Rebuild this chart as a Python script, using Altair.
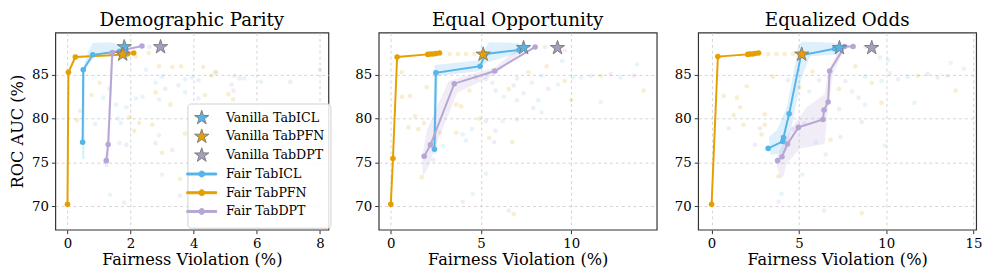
import altair as alt
import pandas as pd

# ---------------- colours ----------------
ICL_C = "#56B4E9"
PFN_C = "#E69F00"
DPT_C = "#B7A6D5"
DPT_STAR_C = "#A79DBE"
EDGE_C = "#7f7f7f"

SERIES = ["Vanilla TabICL", "Vanilla TabPFN", "Vanilla TabDPT",
          "Fair TabICL", "Fair TabPFN", "Fair TabDPT"]

Y_DOMAIN = [67.3, 89.85]
Y_TICKS = [70, 75, 80, 85]

# ---------------- Demographic Parity ----------------
DP_ICL_X = [0.48, 0.50, 0.80, 1.65]
DP_ICL_Y = [77.3, 85.6, 87.3, 87.7]
DP_PFN_X = [0.0, 0.03, 0.25, 1.70, 1.90, 2.10]
DP_PFN_Y = [70.2, 85.3, 87.05, 87.3, 87.4, 87.5]
DP_DPT_X = [1.23, 1.29, 1.42, 2.36]
DP_DPT_Y = [75.2, 77.05, 87.55, 88.3]
DP_VAN_X = [1.80, 1.75, 2.95]
DP_VAN_Y = [88.2, 87.35, 88.2]

DP_BG_ICL = [(2.48, 85.6), (3.0, 84.8), (3.73, 84.5), (3.94, 84.7), (2.79, 84.1), (2.38, 82.5),
             (2.17, 82.3), (2.9, 82.2), (1.86, 81.3), (1.6, 80.0), (1.7, 79.5), (1.65, 77.2),
             (3.0, 73.6), (1.35, 71.3), (1.13, 82.4), (1.33, 83.4), (1.54, 81.6), (5.29, 84.9),
             (5.6, 84.6), (6.13, 84.2), (8.0, 85.6), (4.67, 85.3), (3.73, 83.0), (2.9, 78.1),
             (0.87, 79.4)]
DP_BG_PFN = [(2.17, 87.1), (2.58, 87.5), (3.32, 85.9), (3.6, 86.0), (4.3, 85.9), (4.56, 84.9),
             (4.72, 85.3), (2.79, 83.0), (3.26, 81.6), (1.96, 80.2), (2.27, 79.5), (2.69, 79.3),
             (2.12, 78.6), (3.0, 76.1), (3.57, 73.1), (0.76, 82.7), (0.4, 80.9), (0.3, 79.8),
             (1.02, 84.1), (5.1, 82.8), (4.36, 82.7), (3.73, 78.3), (2.9, 86.0), (5.25, 82.2)]
DP_BG_DPT = [(3.1, 83.4), (3.52, 83.8), (1.86, 77.0), (2.79, 77.2), (3.32, 76.4), (1.8, 70.4),
             (3.57, 71.2), (5.2, 83.9), (5.26, 83.2), (5.45, 84.6), (7.06, 84.2), (4.15, 84.4),
             (4.15, 82.3), (4.25, 77.9), (4.56, 78.3), (2.6, 88.2), (2.9, 88.0)]

DP_BAND_ICL = [(0.46, 75.4), (0.46, 85.4), (0.66, 87.7), (0.81, 88.64), (1.39, 88.75), (1.70, 88.38),
               (1.49, 87.62), (0.87, 87.14), (0.56, 85.6), (0.54, 75.4)]
DP_BAND_DPT = [(1.18, 74.5), (1.25, 77.1), (1.38, 87.5), (1.46, 87.5), (1.32, 77.0), (1.30, 74.5)]

# ---------------- Equal Opportunity ----------------
EO_ICL_X = [2.42, 2.50, 4.95, 5.25, 7.10]
EO_ICL_Y = [76.5, 85.25, 86.0, 87.4, 87.85]
EO_PFN_X = [0.0, 0.12, 0.35, 2.05, 2.20, 2.35, 2.50, 2.70]
EO_PFN_Y = [70.2, 75.45, 87.05, 87.35, 87.4, 87.4, 87.45, 87.5]
EO_DPT_X = [1.85, 2.20, 3.52, 5.76, 8.00]
EO_DPT_Y = [75.7, 77.0, 84.0, 85.45, 88.2]
EO_VAN_X = [7.36, 5.12, 9.24]
EO_VAN_Y = [88.1, 87.35, 88.1]

EO_BG_ICL = [(6.27, 82.5), (7.81, 84.1), (8.36, 84.9), (8.18, 82.1), (9.27, 83.9), (10.09, 84.7),
             (12.73, 84.7), (13.64, 86.2), (11.64, 81.9), (9.5, 86.6), (8.36, 80.7), (6.2, 79.7),
             (4.5, 78.8), (4.17, 77.5), (3.99, 78.2), (5.27, 73.7), (4.54, 71.4), (2.9, 76.9),
             (10.55, 84.7)]
EO_BG_PFN = [(3.26, 87.4), (3.72, 87.4), (4.17, 87.4), (4.63, 87.4), (1.07, 82.6), (0.62, 82.5),
             (0.98, 79.0), (1.35, 80.3), (1.99, 83.6), (1.84, 79.5), (1.53, 78.8), (2.72, 78.4),
             (1.71, 73.3), (3.63, 81.6), (3.9, 81.4), (3.63, 78.4), (4.36, 83.2), (4.72, 84.7),
             (6.54, 83.4), (9.64, 84.3), (11.64, 84.9), (14.01, 83.2), (10.0, 82.1), (8.64, 86.0),
             (7.63, 85.3), (4.9, 80.0), (5.45, 77.8), (6.73, 77.3), (6.81, 69.1), (0.6, 85.3)]
EO_BG_DPT = [(5.27, 84.5), (5.63, 84.1), (5.81, 83.2), (6.81, 83.8), (6.99, 82.1), (7.36, 82.9),
             (8.73, 83.4), (11.09, 84.9), (12.19, 85.1), (13.46, 84.9), (9.64, 87.8), (8.55, 88.2),
             (7.0, 84.6), (7.9, 81.2), (7.0, 79.9), (5.8, 78.6), (5.27, 79.7), (5.73, 77.3),
             (3.99, 70.5), (6.54, 69.5), (2.35, 75.3)]

EO_BAND_ICL = [(2.36, 76.0), (2.38, 85.0), (2.44, 86.15), (4.81, 86.65), (5.45, 88.75), (7.09, 88.64),
               (7.27, 87.62), (5.27, 86.38), (4.9, 85.45), (2.6, 84.88), (2.52, 76.0)]
EO_BAND_DPT = [(1.78, 73.4), (1.75, 75.8), (2.0, 78.7), (3.2, 84.3), (5.76, 85.85), (7.3, 88.4),
               (7.4, 87.9), (5.8, 85.05), (3.7, 83.0), (2.6, 77.5), (2.1, 74.5)]

# ---------------- Equalized Odds ----------------
EOD_ICL_X = [3.24, 4.08, 4.12, 4.44, 5.12, 7.04]
EOD_ICL_Y = [76.6, 77.4, 77.85, 80.55, 87.25, 88.0]
EOD_PFN_X = [0.0, 0.36, 2.07, 2.20, 2.35, 2.49, 2.69]
EOD_PFN_Y = [70.2, 87.1, 87.35, 87.4, 87.4, 87.45, 87.5]
EOD_DPT_X = [3.78, 4.03, 4.35, 4.97, 6.38, 6.44, 6.67, 6.76, 7.62, 8.10]
EOD_DPT_Y = [75.2, 75.65, 77.1, 79.0, 79.9, 81.0, 81.9, 85.45, 88.25, 88.25]
EOD_VAN_X = [7.32, 5.16, 9.17]
EOD_VAN_Y = [88.1, 87.35, 88.1]

EOD_BG_ICL = [(5.59, 83.1), (8.04, 83.1), (8.79, 84.8), (9.73, 84.3), (10.2, 85.2), (13.69, 86.4),
              (14.44, 85.7), (11.62, 81.8), (8.79, 81.6), (5.97, 77.3), (4.0, 71.4), (5.2, 73.6),
              (9.92, 76.9), (10.11, 86.7), (9.64, 87.0), (11.24, 84.8)]
EOD_BG_PFN = [(3.24, 87.4), (3.71, 87.4), (4.18, 87.4), (4.67, 87.4), (3.52, 84.8), (5.03, 83.6),
              (5.78, 85.4), (7.29, 83.4), (8.23, 86.0), (9.17, 84.1), (11.81, 84.9), (13.97, 83.2),
              (9.73, 81.8), (6.81, 77.6), (3.05, 80.5), (3.05, 79.3), (2.86, 78.2), (1.82, 79.3),
              (1.64, 81.3), (2.01, 83.7), (1.26, 80.4), (1.45, 82.4), (0.69, 82.6), (3.83, 73.4),
              (8.6, 69.2)]
EOD_BG_DPT = [(4.37, 84.4), (6.16, 84.4), (6.72, 84.8), (7.66, 84.3), (8.42, 82.4), (10.68, 84.5),
              (12.37, 85.1), (12.94, 84.7), (13.5, 84.9), (8.6, 79.6), (7.29, 81.1), (6.53, 75.9),
              (7.38, 77.9), (5.31, 79.4), (4.65, 78.8), (2.77, 78.9), (2.49, 77.0), (0.98, 78.9),
              (3.83, 70.5), (6.44, 69.5), (8.04, 88.2), (8.79, 88.2)]

EOD_BAND_ICL = [(3.28, 77.9), (3.75, 78.7), (4.31, 81.3), (4.78, 86.2), (4.97, 88.5), (5.25, 88.83),
                (7.14, 88.64), (7.23, 87.33), (5.63, 87.14), (5.16, 84.7), (4.69, 80.2), (4.41, 77.55),
                (4.12, 76.05), (3.37, 75.86)]
EOD_BAND_DPT = [(3.93, 73.2), (3.65, 75.3), (4.5, 78.7), (5.44, 81.3), (6.47, 82.8), (6.67, 85.4),
                (7.32, 88.05), (7.6, 87.9), (6.95, 85.1), (6.67, 81.3), (6.47, 77.1), (5.06, 76.6),
                (4.31, 74.9), (4.12, 73.4)]

# ---------------- helpers ----------------
FONT = "DejaVu Serif"
# star and "line with dot" legend glyphs; both span the same vertical bounds (-1..1)
STAR_PATH = ("M0,1M0,-1L0.2245,-0.309L0.9511,-0.309L0.3633,0.118L0.5878,0.809L0,0.382"
             "L-0.5878,0.809L-0.3633,0.118L-0.9511,-0.309L-0.2245,-0.309Z")
LINE_PATH = ("M0,-1M0,1M-2,-0.13L2,-0.13L2,0.13L-2,0.13Z"
             "M0.4,0A0.4,0.4,0,1,1,-0.4,0A0.4,0.4,0,1,1,0.4,0Z")

fill_scale = alt.Scale(domain=SERIES, range=[ICL_C, PFN_C, DPT_STAR_C, ICL_C, PFN_C, DPT_C])
stroke_scale = alt.Scale(domain=SERIES, range=[EDGE_C, EDGE_C, EDGE_C, ICL_C, PFN_C, DPT_C])
shape_scale = alt.Scale(domain=SERIES, range=[STAR_PATH, STAR_PATH, STAR_PATH,
                                              LINE_PATH, LINE_PATH, LINE_PATH])

LEGEND = alt.Legend(title=None, orient="none", legendX=134, legendY=72,
                    labelFont=FONT, labelFontSize=12.8, labelColor="black",
                    symbolSize=230, symbolStrokeWidth=1, labelOffset=16,
                    padding=6, rowPadding=-2.8, strokeColor="#d0d0d0",
                    fillColor="rgba(255,255,255,0.85)", cornerRadius=3)

AXIS_COMMON = dict(grid=True, gridDash=[3, 3], gridColor="#c8c8c8", gridWidth=0.8,
                   tickSize=4, tickColor="#333333", tickWidth=1, domain=False,
                   labelFont=FONT, labelFontSize=13.5, labelColor="black", labelPadding=3,
                   titleFont=FONT, titleFontSize=16.4, titleFontWeight="normal", titleColor="black")


def pts(pairs, name):
    return pd.DataFrame({"x": [p[0] for p in pairs], "y": [p[1] for p in pairs],
                         "i": list(range(len(pairs))), "name": name})


def panel(title, xdom, xticks, fair, van, bg, bands, first, ext, width):
    X = alt.X("x:Q", scale=alt.Scale(domain=xdom, nice=False, zero=False),
              axis=alt.Axis(values=xticks, format="d", title="Fairness Violation (%)",
                            titlePadding=2, **AXIS_COMMON))
    if first:
        yax = alt.Axis(values=Y_TICKS, title="ROC AUC (%)", minExtent=ext, maxExtent=ext,
                       titlePadding=6.5, **AXIS_COMMON)
    else:
        yax = alt.Axis(values=Y_TICKS, title=None, minExtent=ext, maxExtent=ext, **AXIS_COMMON)
    Y = alt.Y("y:Q", scale=alt.Scale(domain=Y_DOMAIN, nice=False, zero=False), axis=yax)
    leg = LEGEND if first else None
    FILL = alt.Fill("series:N", scale=fill_scale, legend=leg)
    STROKE = alt.Stroke("series:N", scale=stroke_scale, legend=leg)
    SHAPE = alt.Shape("series:N", scale=shape_scale, legend=leg)

    layers = []
    for pairs, col, op in bg:
        layers.append(alt.Chart(pts(pairs, "bg")).mark_circle(size=22, opacity=op, color=col)
                      .encode(x=X, y=Y))
    for pairs, col in bands:
        layers.append(alt.Chart(pts(pairs, "band"))
                      .mark_line(interpolate="linear-closed", fill=col, fillOpacity=0.2,
                                 stroke=col, strokeOpacity=0.0, strokeWidth=0)
                      .encode(x=X, y=Y, order="i:Q"))
    rows = []
    for name, xs, ys in fair:
        for k, (a, b) in enumerate(zip(xs, ys)):
            rows.append({"series": name, "x": a, "y": b, "i": k})
    fair_df = pd.DataFrame(rows)
    van_df = pd.DataFrame({"series": SERIES[:3], "x": van[0], "y": van[1]})

    layers.append(alt.Chart(fair_df).mark_line(strokeWidth=2)
                  .encode(x=X, y=Y, stroke=STROKE, detail="series:N", order="i:Q"))
    layers.append(alt.Chart(fair_df).mark_point(filled=True, shape="circle", size=32, opacity=1)
                  .encode(x=X, y=Y, fill=FILL))
    layers.append(alt.Chart(van_df).mark_point(filled=True, size=230, opacity=1, strokeWidth=1)
                  .encode(x=X, y=Y, fill=FILL, stroke=STROKE, shape=SHAPE))

    return alt.layer(*layers).properties(
        width=width, height=200,
        title=alt.TitleParams(title, font=FONT, fontSize=18.5, fontWeight="normal",
                              color="black", offset=3))


p1 = panel("Demographic Parity", [-0.385, 8.27], [0, 2, 4, 6, 8],
           [("Fair TabICL", DP_ICL_X, DP_ICL_Y), ("Fair TabPFN", DP_PFN_X, DP_PFN_Y),
            ("Fair TabDPT", DP_DPT_X, DP_DPT_Y)],
           (DP_VAN_X, DP_VAN_Y),
           [(DP_BG_ICL, ICL_C, 0.15), (DP_BG_PFN, PFN_C, 0.18), (DP_BG_DPT, DPT_C, 0.2)],
           [(DP_BAND_ICL, ICL_C), (DP_BAND_DPT, DPT_C)], True, 24, 277)

p2 = panel("Equal Opportunity", [-0.67, 14.74], [0, 5, 10],
           [("Fair TabICL", EO_ICL_X, EO_ICL_Y), ("Fair TabPFN", EO_PFN_X, EO_PFN_Y),
            ("Fair TabDPT", EO_DPT_X, EO_DPT_Y)],
           (EO_VAN_X, EO_VAN_Y),
           [(EO_BG_ICL, ICL_C, 0.15), (EO_BG_PFN, PFN_C, 0.18), (EO_BG_DPT, DPT_C, 0.2)],
           [(EO_BAND_ICL, ICL_C), (EO_BAND_DPT, DPT_C)], False, 36, 282)

p3 = panel("Equalized Odds", [-0.77, 15.15], [0, 5, 10, 15],
           [("Fair TabICL", EOD_ICL_X, EOD_ICL_Y), ("Fair TabPFN", EOD_PFN_X, EOD_PFN_Y),
            ("Fair TabDPT", EOD_DPT_X, EOD_DPT_Y)],
           (EOD_VAN_X, EOD_VAN_Y),
           [(EOD_BG_ICL, ICL_C, 0.15), (EOD_BG_PFN, PFN_C, 0.18), (EOD_BG_DPT, DPT_C, 0.2)],
           [(EOD_BAND_ICL, ICL_C), (EOD_BAND_DPT, DPT_C)], False, 30, 282)

chart = (alt.hconcat(p1, p2, p3, spacing=10)
         .resolve_scale(x="independent", y="independent", fill="independent",
                        stroke="independent", shape="independent")
         .properties(padding={"left": 0, "top": 0, "right": 5, "bottom": 0})
         .configure_view(stroke="#333333", strokeWidth=1.2))

chart.save("out.html", embed_options={"renderer": "svg", "actions": False})
